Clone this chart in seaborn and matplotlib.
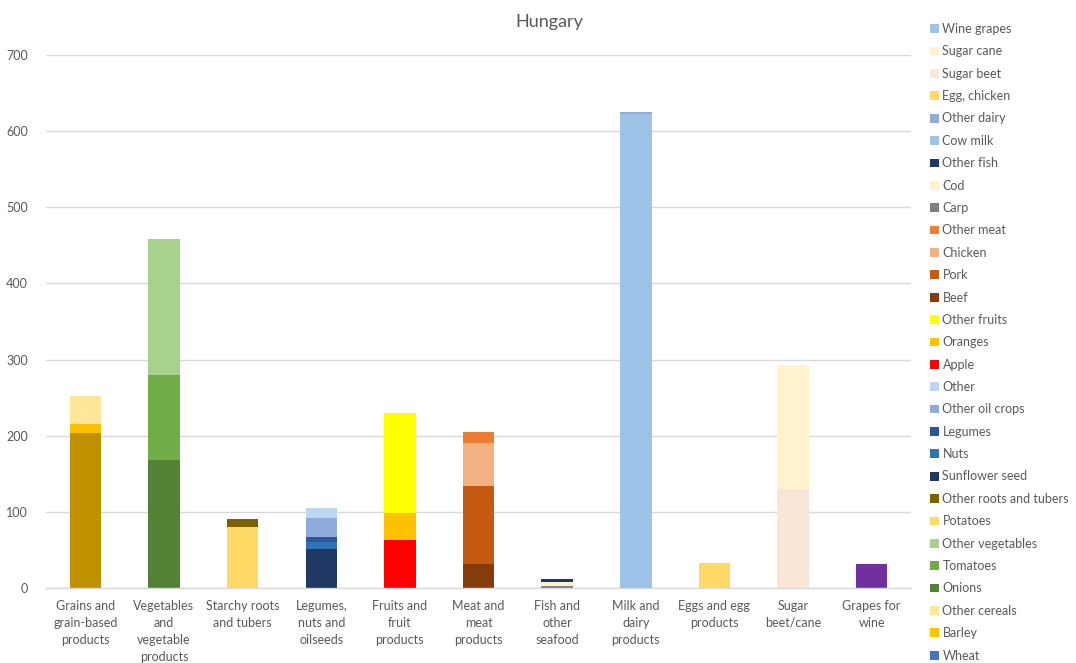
import matplotlib
matplotlib.use("Agg")
import matplotlib.pyplot as plt
from matplotlib.patches import Patch
import seaborn as sns
import pandas as pd

categories = [
    "Grains and\ngrain-based\nproducts",
    "Vegetables\nand\nvegetable\nproducts",
    "Starchy roots\nand tubers",
    "Legumes,\nnuts and\noilseeds",
    "Fruits and\nfruit\nproducts",
    "Meat and\nmeat\nproducts",
    "Fish and\nother\nseafood",
    "Milk and\ndairy\nproducts",
    "Eggs and egg\nproducts",
    "Sugar\nbeet/cane",
    "Grapes for\nwine",
]

series_names = [
    "Wheat", "Barley", "Other cereals",
    "Onions", "Tomatoes", "Other vegetables",
    "Potatoes", "Other roots and tubers",
    "Sunflower seed", "Nuts", "Legumes", "Other oil crops", "Other",
    "Apple", "Oranges", "Other fruits",
    "Beef", "Pork", "Chicken", "Other meat",
    "Carp", "Cod", "Other fish",
    "Cow milk", "Other dairy",
    "Egg, chicken",
    "Sugar beet", "Sugar cane",
    "Wine grapes",
]

series_category = [
    0, 0, 0,
    1, 1, 1,
    2, 2,
    3, 3, 3, 3, 3,
    4, 4, 4,
    5, 5, 5, 5,
    6, 6, 6,
    7, 7,
    8,
    9, 9,
    10,
]

series_values = [
    203, 12.5, 37,
    168, 112, 179,
    80, 10,
    51, 10, 6.5, 25, 12.5,
    63, 36, 131,
    32, 102, 56, 15,
    2.5, 5, 4.5,
    622, 2.5,
    32.5,
    130, 163,
    32,
]

bar_colors = [
    "#BF9000", "#FFC000", "#FFE699",
    "#548235", "#70AD47", "#A9D18E",
    "#FFD966", "#7F6000",
    "#203864", "#2E75B6", "#2F5597", "#8FAADC", "#BDD7EE",
    "#FF0000", "#FFC000", "#FFFF00",
    "#843C0C", "#C55A11", "#F4B183", "#ED7D31",
    "#7F7F7F", "#FFF2CC", "#1F3864",
    "#9DC3E6", "#8FAADC",
    "#FFD966",
    "#FBE5D6", "#FFF2CC",
    "#7030A0",
]

legend_colors = list(bar_colors)
legend_colors[0] = "#4472C4"    # Wheat
legend_colors[-1] = "#9DC3E6"   # Wine grapes

sns.set_theme(style="white")
plt.rcParams["font.family"] = ["Lato", "DejaVu Sans"]

TEXT = "#595959"
GRID = "#D9D9D9"

df = pd.DataFrame({
    "series": series_names,
    "category": [categories[i] for i in series_category],
    "value": series_values,
})
df["top"] = df.groupby("category", sort=False)["value"].cumsum()

fig = plt.figure(figsize=(10.76, 6.63), dpi=100)
ax = fig.add_axes([46 / 1076, 75 / 663, (911 - 46) / 1076, (588 - 55) / 663])

palette = dict(zip(series_names, bar_colors))
sns.barplot(
    data=df, x="category", y="top", hue="series",
    order=categories, hue_order=series_names[::-1],
    palette=palette, dodge=False, width=0.4, saturation=1,
    linewidth=0, ax=ax, legend=False,
)

ax.set_ylim(0, 700)
ax.set_yticks(range(0, 701, 100))
ax.set_xlim(-0.5, len(categories) - 0.5)
ax.yaxis.grid(True, color=GRID, linewidth=1)
ax.set_axisbelow(True)
for s in ["top", "right", "left"]:
    ax.spines[s].set_visible(False)
ax.spines["bottom"].set_color(GRID)
ax.spines["bottom"].set_linewidth(1)
ax.set_xlabel("")
ax.set_ylabel("")
ax.tick_params(axis="y", length=0, pad=13, labelsize=9, labelcolor=TEXT)
ax.tick_params(axis="x", length=0, pad=8.5, labelsize=9, labelcolor=TEXT)
for lbl in ax.get_xticklabels():
    lbl.set_linespacing(1.5)
    lbl.set_va("top")

fig.text(549 / 1076, 1 - 22 / 663, "Hungary", ha="center", va="center",
         fontsize=13, color=TEXT)

handles = [Patch(facecolor=c, edgecolor="none") for c in legend_colors]
leg = fig.legend(
    handles[::-1], series_names[::-1],
    loc="upper left", bbox_to_anchor=(930 / 1076, 1 - 23 / 663),
    frameon=False, fontsize=9, handlelength=0.7, handleheight=0.7,
    handletextpad=0.3, labelspacing=0.83, borderpad=0, borderaxespad=0,
)
for t in leg.get_texts():
    t.set_color(TEXT)

fig.savefig("out.png", dpi=100, facecolor="white")
